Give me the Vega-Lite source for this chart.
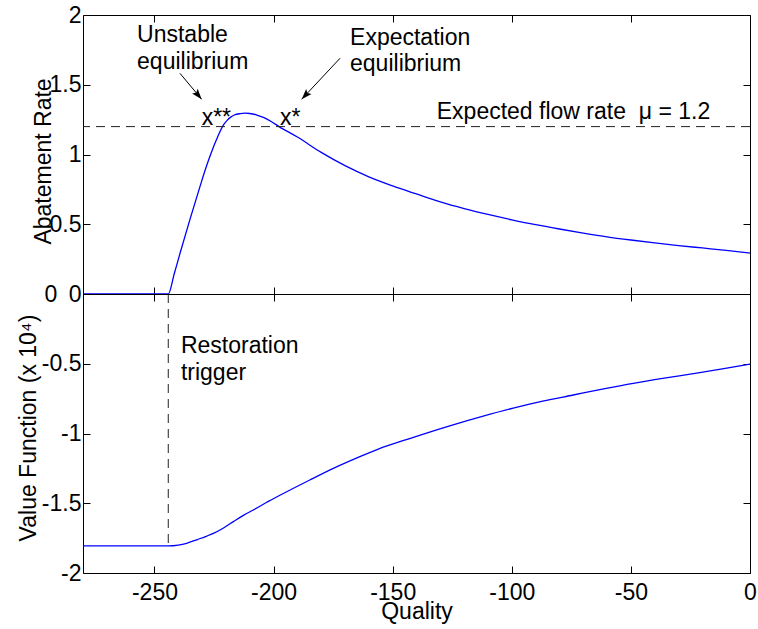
{
  "$schema": "https://vega.github.io/schema/vega-lite/v6.json",
  "autosize": {"type": "none"},
  "padding": {"left": 83, "top": 15, "right": 675, "bottom": 614},
  "background": "white",
  "bounds": "flush",
  "spacing": 0,
  "datasets": {
    "abatement": [
      {"quality": -280, "rate": 0},
      {"quality": -260, "rate": 0},
      {"quality": -244.2, "rate": 0},
      {"quality": -241.7, "rate": 0.145},
      {"quality": -239.3, "rate": 0.29},
      {"quality": -235, "rate": 0.54},
      {"quality": -230.9, "rate": 0.77},
      {"quality": -228.5, "rate": 0.9},
      {"quality": -226, "rate": 1.02},
      {"quality": -223.5, "rate": 1.125},
      {"quality": -221.1, "rate": 1.21},
      {"quality": -219.5, "rate": 1.245},
      {"quality": -218, "rate": 1.268},
      {"quality": -216.5, "rate": 1.283},
      {"quality": -214, "rate": 1.293},
      {"quality": -212, "rate": 1.296},
      {"quality": -210, "rate": 1.294},
      {"quality": -207, "rate": 1.283},
      {"quality": -204, "rate": 1.264},
      {"quality": -201, "rate": 1.237},
      {"quality": -197.7, "rate": 1.2},
      {"quality": -190, "rate": 1.125},
      {"quality": -180, "rate": 1.015},
      {"quality": -170, "rate": 0.92},
      {"quality": -160, "rate": 0.84},
      {"quality": -150, "rate": 0.775},
      {"quality": -140, "rate": 0.717},
      {"quality": -130, "rate": 0.66},
      {"quality": -120, "rate": 0.612},
      {"quality": -110, "rate": 0.57},
      {"quality": -100, "rate": 0.532},
      {"quality": -90, "rate": 0.497},
      {"quality": -80, "rate": 0.466},
      {"quality": -70, "rate": 0.437},
      {"quality": -60, "rate": 0.41},
      {"quality": -50, "rate": 0.387},
      {"quality": -40, "rate": 0.366},
      {"quality": -30, "rate": 0.347},
      {"quality": -20, "rate": 0.33},
      {"quality": -10, "rate": 0.313},
      {"quality": 0, "rate": 0.293}
    ],
    "value": [
      {"quality": -280, "value": -1.806},
      {"quality": -260, "value": -1.806},
      {"quality": -244.2, "value": -1.806},
      {"quality": -240, "value": -1.8},
      {"quality": -236.5, "value": -1.787},
      {"quality": -232, "value": -1.76},
      {"quality": -228, "value": -1.735},
      {"quality": -225.3, "value": -1.716},
      {"quality": -221, "value": -1.677},
      {"quality": -216.9, "value": -1.632},
      {"quality": -212.5, "value": -1.585},
      {"quality": -208.5, "value": -1.548},
      {"quality": -202, "value": -1.485},
      {"quality": -195.9, "value": -1.43},
      {"quality": -185, "value": -1.335},
      {"quality": -174.9, "value": -1.25},
      {"quality": -165, "value": -1.175},
      {"quality": -155.3, "value": -1.106},
      {"quality": -145, "value": -1.048},
      {"quality": -137.1, "value": -1.004},
      {"quality": -125, "value": -0.94},
      {"quality": -112, "value": -0.876},
      {"quality": -99.4, "value": -0.818},
      {"quality": -87, "value": -0.768},
      {"quality": -74.2, "value": -0.724},
      {"quality": -62, "value": -0.682},
      {"quality": -49, "value": -0.64},
      {"quality": -36, "value": -0.603},
      {"quality": -22.4, "value": -0.567},
      {"quality": -11, "value": -0.535},
      {"quality": 0, "value": -0.502}
    ]
  },
  "config": {
    "font": "Liberation Sans",
    "view": {"stroke": null},
    "axis": {
      "grid": false,
      "domainColor": "black",
      "domainWidth": 1,
      "tickColor": "black",
      "tickWidth": 1,
      "tickSize": -7,
      "labelColor": "black",
      "labelFont": "Liberation Sans",
      "labelFontSize": 23,
      "labelFlush": false,
      "labelOverlap": false,
      "titleColor": "black",
      "titleFont": "Liberation Sans",
      "titleFontSize": 23,
      "titleFontWeight": "normal"
    },
    "text": {"font": "Liberation Sans", "fontSize": 23, "color": "black"}
  },
  "vconcat": [
    {
      "width": 667,
      "height": 279,
      "resolve": {"axis": {"x": "independent", "y": "independent"}},
      "layer": [
        {
          "data": {"name": "abatement"},
          "mark": {"type": "line", "opacity": 0},
          "encoding": {
            "x": {"field": "quality", "type": "quantitative", "scale": {"domain": [-280, 0], "nice": false},
                  "axis": {"orient": "top", "values": [-250, -200, -150, -100, -50, 0], "labels": false, "title": null}},
            "y": {"field": "rate", "type": "quantitative", "scale": {"domain": [0, 2], "nice": false},
                  "axis": {"orient": "right", "values": [0, 0.5, 1, 1.5, 2], "labels": false, "title": null}}
          }
        },
        {
          "data": {"name": "abatement"},
          "mark": {"type": "line", "color": "#0000ff", "strokeWidth": 1.3, "interpolate": "monotone"},
          "encoding": {
            "x": {"field": "quality", "type": "quantitative", "scale": {"domain": [-280, 0], "nice": false},
                  "axis": {"orient": "bottom", "values": [-250, -200, -150, -100, -50, 0], "labels": false, "title": null}},
            "y": {"field": "rate", "type": "quantitative", "scale": {"domain": [0, 2], "nice": false},
                  "axis": {"orient": "left", "values": [0, 0.5, 1, 1.5, 2], "labelPadding": 9,
                           "labelExpr": "datum.value === 0 ? '0\u20020' : datum.value + ''",
                           "title": "Abatement Rate", "titleX": -33, "titleY": 146, "titleAngle": -90,
                           "titleAlign": "center", "titleBaseline": "alphabetic"}}
          }
        },
        {
          "data": {"values": [{"flow": 1.2}]},
          "mark": {"type": "rule", "strokeDash": [9, 6], "color": "#222222", "strokeWidth": 1},
          "encoding": {
            "y": {"field": "flow", "type": "quantitative", "scale": {"domain": [0, 2], "nice": false}, "axis": null}
          }
        },
        {
          "data": {"values": [
            {"q1": -239.3, "r1": 1.582, "q2": -230.2, "r2": 1.396},
            {"q1": -172.1, "r1": 1.69, "q2": -188.2, "r2": 1.396}
          ]},
          "mark": {"type": "rule", "color": "black", "strokeWidth": 1},
          "encoding": {
            "x": {"field": "q1", "type": "quantitative", "scale": {"domain": [-280, 0], "nice": false}, "axis": null},
            "y": {"field": "r1", "type": "quantitative", "scale": {"domain": [0, 2], "nice": false}, "axis": null},
            "x2": {"field": "q2"},
            "y2": {"field": "r2"}
          }
        },
        {
          "data": {"values": [{"quality": -230.2, "rate": 1.396}]},
          "mark": {"type": "point", "shape": "M0,0L-0.35,1L0,0.8L0.35,1Z", "filled": true, "color": "black", "opacity": 1, "size": 440, "angle": 140},
          "encoding": {
            "x": {"field": "quality", "type": "quantitative", "scale": {"domain": [-280, 0], "nice": false}, "axis": null},
            "y": {"field": "rate", "type": "quantitative", "scale": {"domain": [0, 2], "nice": false}, "axis": null}
          }
        },
        {
          "data": {"values": [{"quality": -188.2, "rate": 1.396}]},
          "mark": {"type": "point", "shape": "M0,0L-0.35,1L0,0.8L0.35,1Z", "filled": true, "color": "black", "opacity": 1, "size": 440, "angle": 223},
          "encoding": {
            "x": {"field": "quality", "type": "quantitative", "scale": {"domain": [-280, 0], "nice": false}, "axis": null},
            "y": {"field": "rate", "type": "quantitative", "scale": {"domain": [0, 2], "nice": false}, "axis": null}
          }
        },
        {
          "data": {"values": [
            {"quality": -257.3, "rate": 1.806, "note": "Unstable\nequilibrium"},
            {"quality": -167.9, "rate": 1.785, "note": "Expectation\nequilibrium"},
            {"quality": -230.2, "rate": 1.211, "note": "x**"},
            {"quality": -197.3, "rate": 1.211, "note": "x*"},
            {"quality": -131.5, "rate": 1.254, "note": "Expected flow rate\u00a0 μ = 1.2"}
          ]},
          "mark": {"type": "text", "align": "left", "baseline": "alphabetic", "lineBreak": "\n", "lineHeight": 26.5, "fontSize": 23, "color": "black"},
          "encoding": {
            "x": {"field": "quality", "type": "quantitative", "scale": {"domain": [-280, 0], "nice": false}, "axis": null},
            "y": {"field": "rate", "type": "quantitative", "scale": {"domain": [0, 2], "nice": false}, "axis": null},
            "text": {"field": "note"}
          }
        }
      ]
    },
    {
      "width": 667,
      "height": 279,
      "resolve": {"axis": {"x": "independent", "y": "independent"}},
      "layer": [
        {
          "data": {"name": "value"},
          "mark": {"type": "line", "opacity": 0},
          "encoding": {
            "x": {"field": "quality", "type": "quantitative", "scale": {"domain": [-280, 0], "nice": false},
                  "axis": {"orient": "top", "values": [-250, -200, -150, -100, -50, 0], "labels": false, "title": null}},
            "y": {"field": "value", "type": "quantitative", "scale": {"domain": [-2, 0], "nice": false},
                  "axis": {"orient": "right", "values": [-2, -1.5, -1, -0.5, 0], "labels": false, "title": null}}
          }
        },
        {
          "data": {"name": "value"},
          "mark": {"type": "line", "color": "#0000ff", "strokeWidth": 1.3, "interpolate": "monotone"},
          "encoding": {
            "x": {"field": "quality", "type": "quantitative", "scale": {"domain": [-280, 0], "nice": false},
                  "axis": {"orient": "bottom", "values": [-250, -200, -150, -100, -50, 0], "labelPadding": 15,
                           "labelExpr": "datum.value + ''",
                           "title": "Quality", "titleY": 45, "titleBaseline": "alphabetic"}},
            "y": {"field": "value", "type": "quantitative", "scale": {"domain": [-2, 0], "nice": false},
                  "axis": {"orient": "left", "values": [-2, -1.5, -1, -0.5, 0], "labelPadding": 9,
                           "labelExpr": "datum.value === 0 ? '' : datum.value + ''",
                           "title": "Value Function (x 10⁴)", "titleX": -48, "titleY": 133.5, "titleAngle": -90,
                           "titleAlign": "center", "titleBaseline": "alphabetic"}}
          }
        },
        {
          "data": {"values": [{"quality": -244.2, "top": 0, "bottom": -1.806}]},
          "mark": {"type": "rule", "strokeDash": [9, 6], "color": "#222222", "strokeWidth": 1},
          "encoding": {
            "x": {"field": "quality", "type": "quantitative", "scale": {"domain": [-280, 0], "nice": false}, "axis": null},
            "y": {"field": "top", "type": "quantitative", "scale": {"domain": [-2, 0], "nice": false}, "axis": null},
            "y2": {"field": "bottom"}
          }
        },
        {
          "data": {"values": [{"quality": -238.9, "value": -0.423, "note": "Restoration\ntrigger"}]},
          "mark": {"type": "text", "align": "left", "baseline": "alphabetic", "lineBreak": "\n", "lineHeight": 27, "fontSize": 23, "color": "black"},
          "encoding": {
            "x": {"field": "quality", "type": "quantitative", "scale": {"domain": [-280, 0], "nice": false}, "axis": null},
            "y": {"field": "value", "type": "quantitative", "scale": {"domain": [-2, 0], "nice": false}, "axis": null},
            "text": {"field": "note"}
          }
        }
      ]
    }
  ]
}
